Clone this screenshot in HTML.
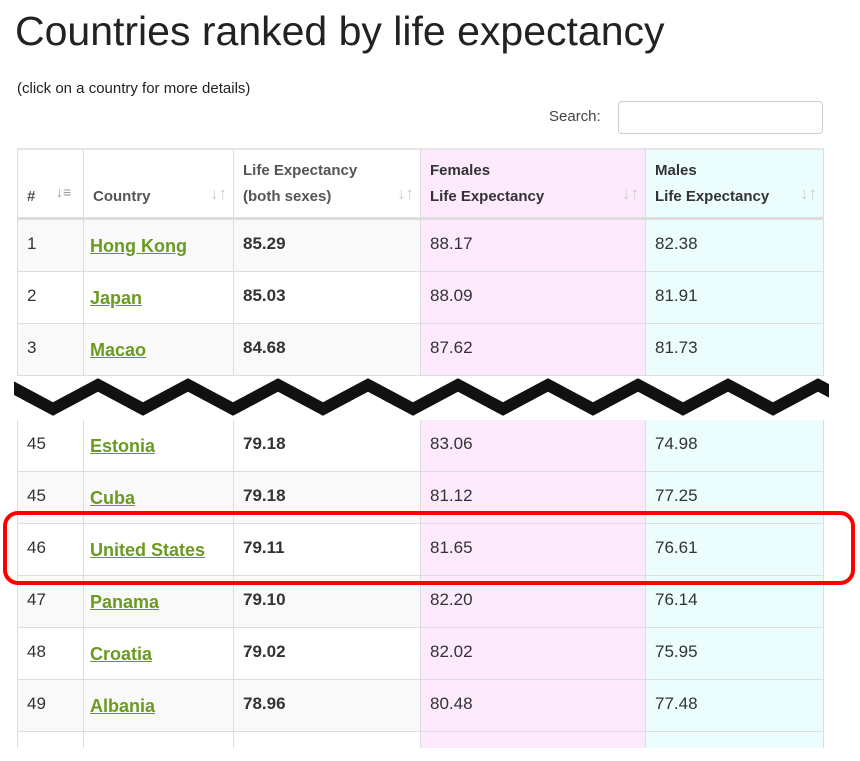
<!DOCTYPE html>
<html><head><meta charset="utf-8"><style>
body{margin:0;width:860px;height:761px;background:#fff;position:relative;overflow:hidden;font-family:"Liberation Sans",Arial,sans-serif;color:#333}
.a{position:absolute;white-space:nowrap}
.cell{position:absolute;box-sizing:border-box;border-right:1px solid #ddd;border-bottom:1px solid #ddd}
.num{font-size:17px}
.lnk{color:#6a9a1f;font-weight:bold;text-decoration:underline;font-size:18px}
.hd{font-size:15px;font-weight:bold;color:#555}
.sort{position:absolute;color:#ccc;font-size:17px;font-weight:bold}
</style></head><body>
<div class="a" style="left:15px;top:8px;font-size:41px;color:#222">Countries ranked by life expectancy</div>
<div class="a" style="left:17px;top:80px;font-size:15px;color:#222">(click on a country for more details)</div>
<div class="a" style="left:549px;top:108px;font-size:15px;color:#444">Search:</div>
<div class="a" style="left:618px;top:101px;width:203px;height:31px;border:1px solid #ccc;border-radius:4px"></div>
<div id="tbl"></div>
<svg class="a" style="left:0;top:376px" width="860" height="44">
<rect x="0" y="0" width="860" height="44" fill="#fff"/>
<clipPath id="cp"><rect x="14" y="0" width="815" height="44"/></clipPath>
<polyline id="zz" fill="none" stroke="#111" stroke-width="12" stroke-linejoin="miter" clip-path="url(#cp)"/>
</svg>
<div class="a" style="left:3px;top:511px;width:844px;height:66px;border:4px solid #f00;border-radius:15px"></div>
<script>
const ranks=["1","2","3","45","45","46","47","48","49"];
const countries=["Hong Kong","Japan","Macao","Estonia","Cuba","United States","Panama","Croatia","Albania"];
const both=["85.29","85.03","84.68","79.18","79.18","79.11","79.10","79.02","78.96"];
const females=["88.17","88.09","87.62","83.06","81.12","81.65","82.20","82.02","80.48"];
const males=["82.38","81.91","81.73","74.98","77.25","76.61","76.14","75.95","77.48"];
const tops=[220,272,324,420,472,524,576,628,680];
const cols=[17,84,234,421,646,824];
const tbl=document.getElementById('tbl');
function cell(x,y,w,h,bg,name){const d=document.createElement('div');d.className='cell';d.style.cssText=`left:${x}px;top:${y}px;width:${w}px;height:${h}px;background:${bg}`;


tbl.appendChild(d);return d;}
function txt(p,x,y,t,cls,name,inter){const s=document.createElement('div');s.className='a '+cls;s.style.left=x+'px';s.style.top=y+'px';s.textContent=t;


p.appendChild(s);return s;}
const hbg=['#fff','#fff','#fff','#fdeafd','#ebfdfd'];
const hd=[["","#"],["","Country"],["Life Expectancy","(both sexes)"],["Females","Life Expectancy"],["Males","Life Expectancy"]];
for(let c=0;c<5;c++){const w=cols[c+1]-cols[c];const d=cell(cols[c],148,w,72,hbg[c],'header-cell');d.style.borderTop='2px solid #e5e5e5';d.style.borderBottom='3px solid #ddd';if(c==0)d.style.borderLeft='1px solid #ddd';
 if(hd[c][0])txt(d,9,12,hd[c][0],'hd','header-line1',false);
 txt(d,9,38,hd[c][1],'hd','header-line2',false).style.color=c>=3?'#333':'#555';
 if(c>=3)d.children[0].style.color='#333';
 const s=txt(d,w-24,34,c==0?'↓≡':'↓↑','sort','sort-icon',true);s.style.fontSize=c==0?'14px':'17px';if(c==0){s.style.left='38px';s.style.color='#999'}
}
for(let i=0;i<ranks.length;i++){
 const y=tops[i];const g=(i%2==0)?'#f9f9f9':'#fff';
 const bgs=[g,g,g,'#fdeafd','#ebfdfd'];
 const cs=[];
 for(let c=0;c<5;c++){const d=cell(cols[c],y,cols[c+1]-cols[c],52,bgs[c],'row-cell');if(c==0)d.style.borderLeft='1px solid #ddd';cs.push(d);}
 txt(cs[0],9,14,ranks[i],'num','rank',false);
 txt(cs[1],6,16,countries[i],'lnk','country-link',true);
 txt(cs[2],9,14,both[i],'num','life-expectancy-both',false).style.fontWeight='bold';
 txt(cs[3],9,14,females[i],'num','life-expectancy-females',false);
 txt(cs[4],9,14,males[i],'num','life-expectancy-males',false);
}
const pb=['#fff','#fff','#fff','#fdeafd','#ebfdfd'];
for(let c=0;c<5;c++){const d=cell(cols[c],732,cols[c+1]-cols[c],16,pb[c],'partial-row-cell');d.style.borderBottom='none';if(c==0)d.style.borderLeft='1px solid #ddd';}
let pts=[];for(let k=0;k<11;k++){pts.push((8+k*90)+','+9);pts.push((53+k*90)+','+33);}
document.getElementById('zz').setAttribute('points',pts.join(' '));
</script>
</body></html>
